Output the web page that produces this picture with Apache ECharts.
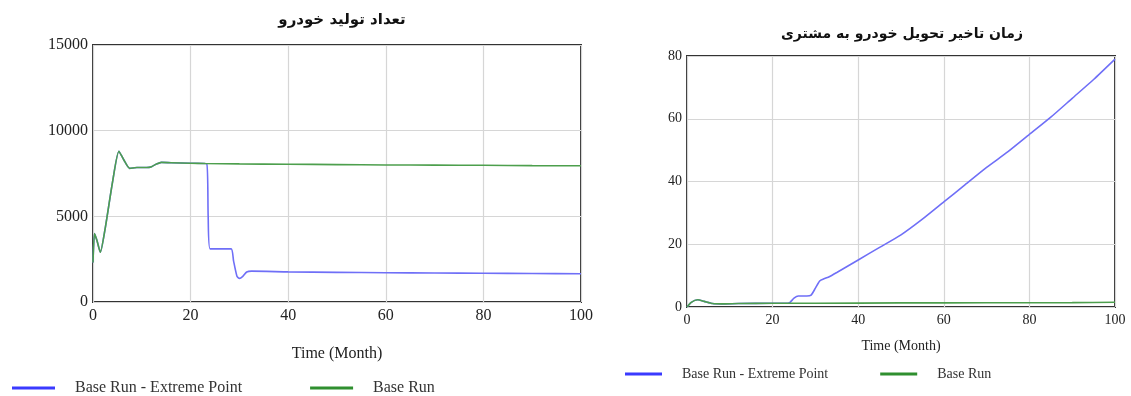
<!DOCTYPE html>
<html><head><meta charset="utf-8">
<script src="https://cdn.jsdelivr.net/npm/echarts@6/dist/echarts.min.js"></script>
<style>html,body{margin:0;padding:0;background:#fff}#c{width:1131px;height:396px}</style>
</head><body><div id="c"></div>
<script>
// ---- Data ----
const leftTitle = 'تعداد تولید خودرو';
const rightTitle = 'زمان تاخیر تحویل خودرو به مشتری';
const xName = 'Time (Month)';
const seriesNames = ['Base Run - Extreme Point', 'Base Run'];
const xTicks = [0, 20, 40, 60, 80, 100];

// Left chart: production count
const leftBaseT = [0, 0.3, 0.8, 1.5, 2.5, 4, 5.3, 6.3, 7.5, 9, 11, 12, 13, 14, 16, 20, 23, 30, 40, 50, 60, 70, 80, 90, 100];
const leftBaseV = [2300, 4000, 3600, 2900, 4300, 7000, 8800, 8300, 7800, 7850, 7850, 7900, 8050, 8150, 8130, 8100, 8080, 8060, 8040, 8020, 8000, 7990, 7980, 7960, 7950];
const leftExtT = [0, 0.3, 0.8, 1.5, 2.5, 4, 5.3, 6.3, 7.5, 9, 11, 12, 13, 14, 16, 20, 23.3, 23.6, 24, 28.3, 28.8, 29.5, 30, 30.7, 31.5, 32.5, 40, 50, 60, 70, 80, 90, 100];
const leftExtV = [2300, 4000, 3600, 2900, 4300, 7000, 8800, 8300, 7800, 7850, 7850, 7900, 8050, 8150, 8130, 8100, 8070, 5000, 3100, 3100, 2400, 1500, 1380, 1500, 1750, 1800, 1760, 1730, 1710, 1690, 1680, 1660, 1650];

// Right chart: delivery delay
const rightBaseT = [0, 1, 2.5, 4, 6, 8, 12, 20, 30, 50, 70, 90, 100];
const rightBaseV = [0, 1.5, 2.3, 1.8, 1.1, 1.0, 1.1, 1.2, 1.2, 1.3, 1.35, 1.4, 1.5];
const rightExtT = [0, 1, 2.5, 4, 6, 8, 12, 20, 23, 24, 25, 26, 28, 29, 30, 31, 32, 33, 35, 40, 45, 50, 55, 60, 65, 70, 75, 80, 85, 90, 95, 100];
const rightExtV = [0, 1.5, 2.3, 1.8, 1.1, 1.0, 1.1, 1.2, 1.2, 1.4, 2.8, 3.5, 3.5, 3.8, 6, 8.3, 9, 9.5, 11, 15, 19, 23, 28, 33.5, 39, 44.5, 49.5, 55, 60.5, 66.5, 72.5, 79];

const pairs = (t, v) => t.map((x, i) => [x, v[i]]);

const blue = '#6f6ff7';
const green = '#4d9f4d';
const serif = 'Liberation Serif';
const arab = 'DejaVu Sans';

function xAxis(gi, fs) {
  return {
    type: 'value', gridIndex: gi, min: 0, max: 100, interval: 20,
    name: xName, nameLocation: 'middle', nameGap: gi === 0 ? 44 : 32,
    nameTextStyle: { fontFamily: serif, fontSize: fs, color: '#222' },
    axisLine: { show: false }, axisTick: { show: false },
    axisLabel: { fontFamily: serif, fontSize: fs, color: '#222', margin: 6 },
    splitLine: { show: true, lineStyle: { color: '#d6d6d6', width: 1.2 } }
  };
}
function yAxis(gi, max, interval, fs) {
  return {
    type: 'value', gridIndex: gi, min: 0, max: max, interval: interval,
    axisLine: { show: false }, axisTick: { show: false },
    axisLabel: { fontFamily: serif, fontSize: fs, color: '#222', margin: 5, formatter: v => String(v) },
    splitLine: { show: true, lineStyle: { color: '#d6d6d6', width: 1.2 } }
  };
}
function line(name, gi, data, color) {
  return {
    name: name, type: 'line', xAxisIndex: gi, yAxisIndex: gi, data: data,
    showSymbol: false, smooth: 0.2,
    lineStyle: { color: color, width: 1.6 }, itemStyle: { color: color },
    animation: false, z: name === 'Base Run' ? 3 : 2
  };
}

const chart = echarts.init(document.getElementById('c'), null, { renderer: 'canvas' });
chart.setOption({
  animation: false,
  backgroundColor: '#fff',
  title: [
    { text: leftTitle, left: 337, top: 8, textAlign: 'center',
      textStyle: { fontFamily: arab, fontSize: 15, fontWeight: 'bold', color: '#111' } },
    { text: rightTitle, left: 897, top: 22, textAlign: 'center',
      textStyle: { fontFamily: arab, fontSize: 14, fontWeight: 'bold', color: '#111' } }
  ],
  grid: [
    { left: 93, top: 45, right: 550, bottom: 94, show: true, borderColor: '#333', borderWidth: 2 },
    { left: 687, top: 56, right: 16, bottom: 89, show: true, borderColor: '#333', borderWidth: 2 }
  ],
  xAxis: [xAxis(0, 16), xAxis(1, 14)],
  yAxis: [yAxis(0, 15000, 5000, 16), yAxis(1, 80, 20, 14)],
  legend: [
    { left: 7, top: 375, itemWidth: 43, itemHeight: 3, itemGap: 68, icon: 'rect',
      data: [{ name: seriesNames[0], itemStyle: { color: '#3a3aff' } }, { name: seriesNames[1], itemStyle: { color: '#2f8f2f' } }],
      textStyle: { fontFamily: serif, fontSize: 16, color: '#333', padding: [0, 0, 0, 15] } },
    { left: 620, top: 362, itemWidth: 37, itemHeight: 3, itemGap: 52, icon: 'rect',
      data: [{ name: seriesNames[0], itemStyle: { color: '#3a3aff' } }, { name: seriesNames[1], itemStyle: { color: '#2f8f2f' } }],
      textStyle: { fontFamily: serif, fontSize: 14, color: '#333', padding: [0, 0, 0, 15] } }
  ],
  series: [
    line(seriesNames[0], 0, pairs(leftExtT, leftExtV), blue),
    line(seriesNames[1], 0, pairs(leftBaseT, leftBaseV), green),
    line(seriesNames[0], 1, pairs(rightExtT, rightExtV), blue),
    line(seriesNames[1], 1, pairs(rightBaseT, rightBaseV), green)
  ]
});
</script></body></html>
